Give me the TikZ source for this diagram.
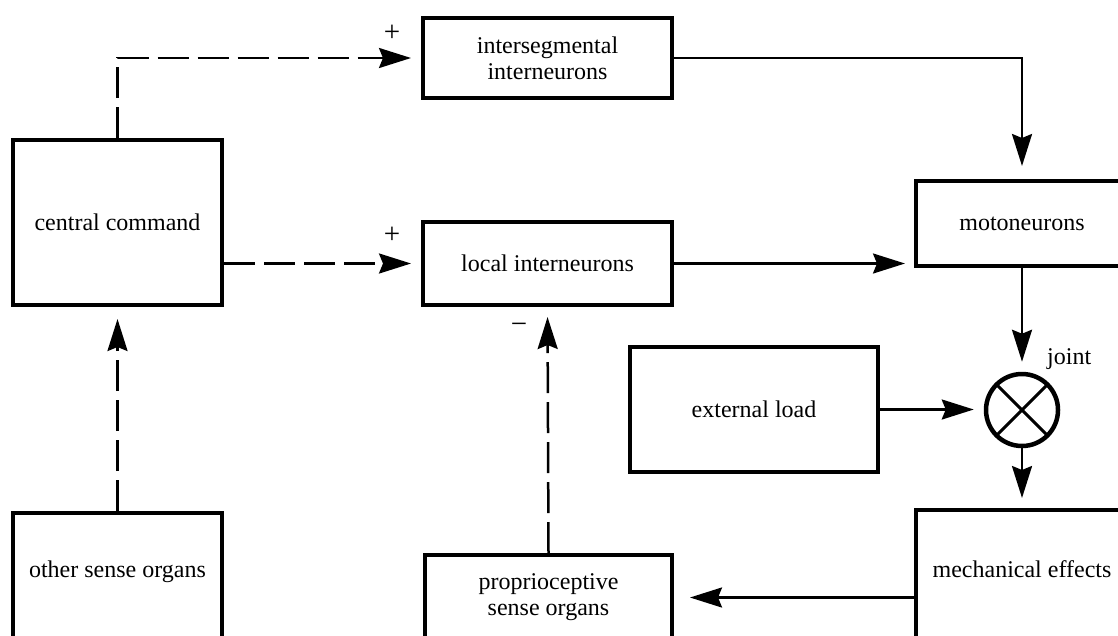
\documentclass[tikz,border=0pt]{standalone}
\usepackage{fontspec}
\setmainfont{Liberation Serif}
\usetikzlibrary{arrows.meta}
\begin{document}
\begin{tikzpicture}[x=1pt, y=-1pt,
  font=\fontsize{24}{26}\selectfont,
  box/.style={draw, line width=4pt, inner sep=0pt},
  link/.style={line width=2.5pt, -{Stealth[length=32pt,width=20pt,inset=4pt]}, shorten >=#1},
  link/.default=10pt,
  dashlink/.style={link=#1, dash pattern=on 31pt off 9pt},
  dashlink/.default=10pt,
  sign/.style={inner sep=0pt, font=\fontsize{29}{30}\selectfont}]
\useasboundingbox (0,0) rectangle (1118,635);
\clip (0,0) rectangle (1118,635);

% blocks
\node[box, minimum width=209pt, minimum height=165pt] (cc) at (117.5,222.5) {central command};
\node[box, align=center, minimum width=249pt, minimum height=80pt] (is) at (547.5,58) {intersegmental\\interneurons};
\node[box, minimum width=249pt, minimum height=83pt] (li) at (547.5,263.5) {local interneurons};
\node[box, minimum width=212pt, minimum height=85pt] (mn) at (1022,223.5) {motoneurons};
\node[box, minimum width=248pt, minimum height=125pt] (el) at (754,409.5) {external load};
\node[box, align=center, minimum width=247pt, minimum height=85pt] (pso) at (548.5,597.5) {proprioceptive\\sense organs};
\node[box, minimum width=209pt, text height=64pt, text depth=123pt, anchor=base] (os) at (117.5,577) {other sense organs};
\node[box, minimum width=212pt, text height=67pt, text depth=123pt, anchor=base] (me) at (1022,577) {mechanical effects};

% summing joint
\node[circle, draw, line width=4.5pt, minimum size=72pt, inner sep=0pt] (jt) at (1022,410) {};
\draw[line width=3pt, shorten <=3pt, shorten >=3pt] (jt.45) -- (jt.225);
\draw[line width=3pt, shorten <=3pt, shorten >=3pt] (jt.135) -- (jt.315);
\node[inner sep=0pt, anchor=base west] (jl) at (1047,364) {joint};

% signs
\node[sign] (p1) at (392,33) {+};
\node[sign] (p2) at (392,235) {+};
\node[sign] (m1) at (519,328) {−};

% connectors
\draw[dashlink] (cc.north) |- (is.west);
\draw[dashlink] (cc.east |- li.west) -- (li.west);
\draw[dashlink=12pt] (os.north) -- (cc.south);
\draw[dashlink] (pso.north) -- (li.south);
\draw[link=13pt] (is.east) -| (mn.north);
\draw[link=9pt] (li.east) -- (li.east -| mn.west);
\draw[link] (mn.south) -- (jt.north);
\draw[link] (el.east) -- (el.east -| jt.west);
\draw[link] (jt.south) -- (me.north);
\draw[link=16pt] (me.west |- pso.east) -- (pso.east);
\end{tikzpicture}
\end{document}
